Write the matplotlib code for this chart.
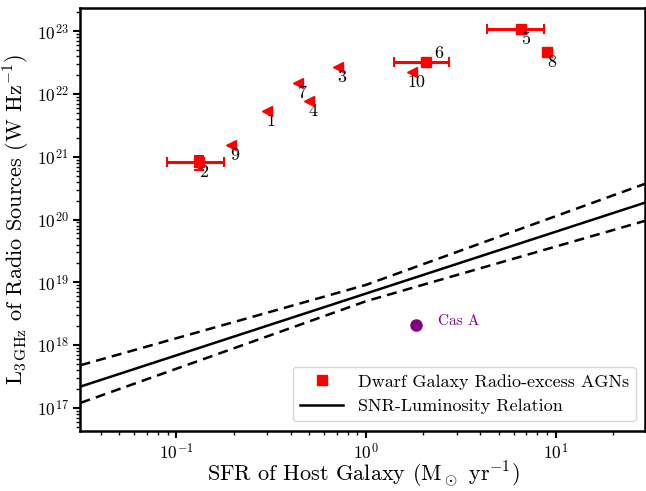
import numpy as np
import matplotlib
matplotlib.use('Agg')
import matplotlib.pyplot as plt

plt.rcParams['font.family'] = 'serif'
plt.rcParams['font.serif'] = ['cmr10']
plt.rcParams['mathtext.fontset'] = 'cm'
plt.rcParams['axes.formatter.use_mathtext'] = True

# radio-excess AGNs without error bars (left triangles)
tri_ids = ['1', '3', '4', '7', '9', '10']
tri_sfr = [0.301, 0.711, 0.50, 0.438, 0.194, 1.75]
tri_lum = [5.33e21, 2.67e22, 7.7e21, 1.49e22, 1.53e21, 2.22e22]

# AGNs with measured SFR (squares)
sq_ids = ['2', '5', '6', '8']
sq_sfr = [0.1315, 6.56, 2.07, 9.02]
sq_lum = [8.2e20, 1.08e23, 3.21e22, 4.64e22]
sq_sfr_lo = [0.089, 4.35, 1.41, 9.02]
sq_sfr_hi = [0.178, 8.69, 2.74, 9.02]
sq_lum_err = [2.1e20, 0, 0, 0]

# SNR-luminosity relation and its uncertainty band
rel_sfr = [0.0312, 29.6]
rel_lum = [10**17.34, 10**20.27]
band_sfr = [0.0312, 1.0, 29.6]
band_hi = [10**17.68, 10**18.96, 10**20.57]
band_lo = [10**17.08, 10**18.70, 10**19.98]

casa_sfr = 1.83
casa_lum = 2.1e18

fig = plt.figure(figsize=(6.46, 4.91), dpi=100)
ax = fig.add_axes([0.1246, 0.1232, 0.874, 0.8605])

xerr = [np.array(sq_sfr) - np.array(sq_sfr_lo), np.array(sq_sfr_hi) - np.array(sq_sfr)]
ax.errorbar(sq_sfr, sq_lum, xerr=xerr, yerr=sq_lum_err, fmt='none',
            ecolor='red', elinewidth=2.2, capsize=3.5, capthick=1.5)
ax.plot(sq_sfr, sq_lum, 's', color='red', ms=6.5, ls='none',
        label='Dwarf Galaxy Radio-excess AGNs')
ax.plot(tri_sfr, tri_lum, '<', color='red', ms=6.5, ls='none')

ax.plot(rel_sfr, rel_lum, color='black', lw=1.8, label='SNR-Luminosity Relation')
ax.plot(band_sfr, band_hi, color='black', lw=1.8, ls='--', dashes=(4, 2.5))
ax.plot(band_sfr, band_lo, color='black', lw=1.8, ls='--', dashes=(4, 2.5))

for name, x, y in zip(tri_ids + sq_ids, tri_sfr + sq_sfr, tri_lum + sq_lum):
    off = (9, 6.5) if name == '6' else (3, -7.5)
    ax.annotate(name, (x, y), xytext=off, textcoords='offset points',
                ha='center', va='center', fontsize=13)

ax.plot(casa_sfr, casa_lum, 'o', color='purple', ms=8)
ax.annotate('Cas A', (casa_sfr, casa_lum), xytext=(16, 3), textcoords='offset points',
            ha='left', va='center', fontsize=11, color='purple')

ax.set_xscale('log')
ax.set_yscale('log')
ax.set_xlim(0.0312, 29.6)
ax.set_ylim(10**16.64, 10**23.37)

ax.set_xlabel(r'SFR of Host Galaxy (M$_\odot$ yr$^{-1}$)', fontsize=16, labelpad=-2)
ax.set_ylabel(r'L$_{3\,\mathrm{GHz}}$ of Radio Sources (W Hz$^{-1}$)', fontsize=16, labelpad=3)
ax.tick_params(labelsize=12.5, width=1.5, length=5)
ax.tick_params(which='minor', width=1.0, length=3)
for s in ax.spines.values():
    s.set_linewidth(1.8)

ax.legend(loc='lower right', fontsize=13, numpoints=1, handlelength=2.4)

fig.savefig('out.png', dpi=100)
